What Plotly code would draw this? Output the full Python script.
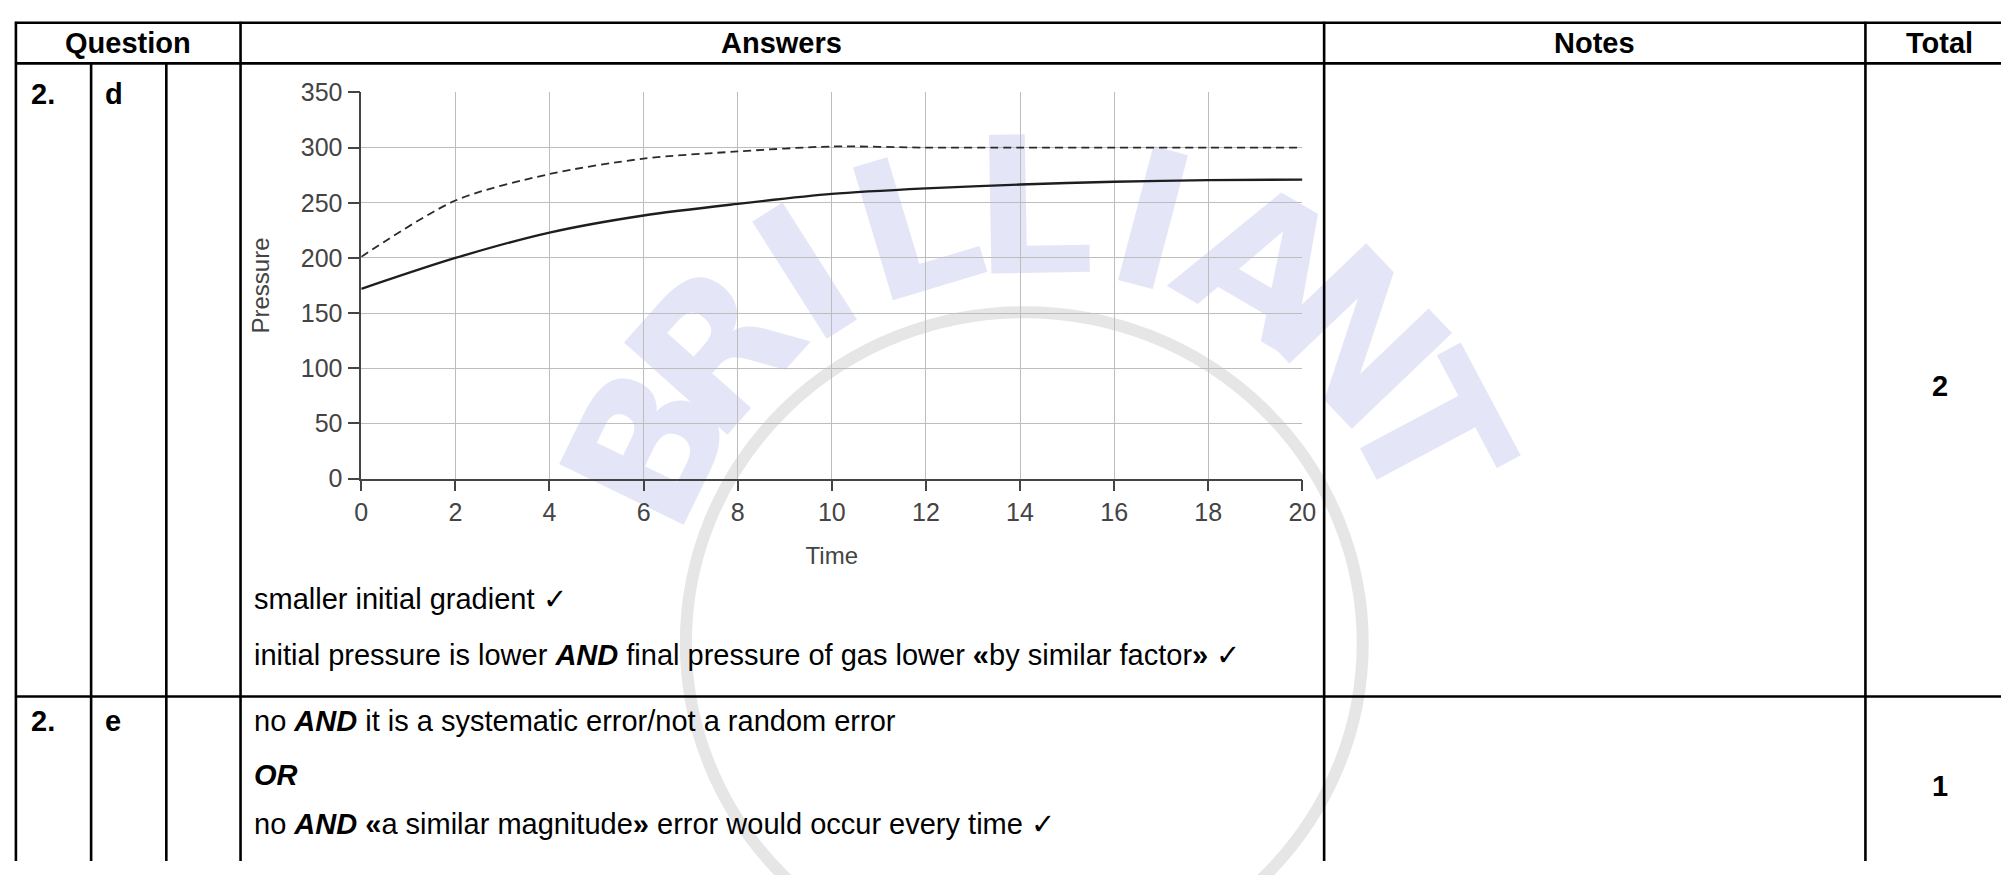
import math
import plotly.graph_objects as go

# ---------------- data ----------------
time_vals = [0, 2, 4, 6, 8, 10, 12, 14, 16, 18, 20]
pressure_original = [201, 252, 276, 290, 296.5, 301, 300, 300, 300, 300, 300]   # dashed
pressure_new = [172, 200, 223, 238.5, 249, 258, 263, 266.5, 269, 270.5, 271]    # solid
y_ticks = [0, 50, 100, 150, 200, 250, 300, 350]
x_ticks = [0, 2, 4, 6, 8, 10, 12, 14, 16, 18, 20]

headers = ["Question", "Answers", "Notes", "Total"]
row_d_answers = [
    "smaller initial gradient ✓",
    "initial pressure is lower <b><i>AND</i></b> final pressure of gas lower <b>«</b>by similar factor<b>»</b> ✓",
]
row_e_answers = [
    "no <b><i>AND</i></b> it is a systematic error/not a random error",
    "<b><i>OR</i></b>",
    "no <b><i>AND</i></b> <b>«</b>a similar magnitude<b>»</b> error would occur every time ✓",
]
totals = ["2", "1"]
watermark = "BRILLIANT"

# ---------------- geometry helpers ----------------
W, H = 2015, 875
def px(x):
    return x / W
def py(y):
    return 1 - y / H

FONT = "Liberation Sans, Arial, sans-serif"

fig = go.Figure()

fig.add_trace(go.Scatter(x=time_vals, y=pressure_original, mode="lines",
                         line=dict(color="#2a2a2a", width=1.8, dash="8px,5px", shape="spline", smoothing=0.8),
                         showlegend=False, hoverinfo="skip"))
fig.add_trace(go.Scatter(x=time_vals, y=pressure_new, mode="lines",
                         line=dict(color="#1e1e1e", width=2.4, shape="spline", smoothing=0.8),
                         showlegend=False, hoverinfo="skip"))

fig.update_layout(
    width=W, height=H,
    margin=dict(l=0, r=0, t=0, b=0),
    paper_bgcolor="white", plot_bgcolor="rgba(0,0,0,0)",
    font=dict(family=FONT, color="#000"),
    xaxis=dict(domain=[px(358), px(1309)], range=[0, 20], tickvals=x_ticks,
               showgrid=True, gridcolor="#bdbdbd", gridwidth=1,
               showline=True, linecolor="#444", linewidth=1.5,
               ticks="outside", ticklen=11, tickcolor="#444", tickwidth=1.5,
               tickfont=dict(size=25, color="#444", family=FONT),
               zeroline=False, mirror=False,
               title=dict(text="Time", font=dict(size=24, color="#444", family=FONT), standoff=22)),
    yaxis=dict(domain=[py(480), py(81)], range=[0, 350], tickvals=y_ticks,
               showgrid=True, gridcolor="#bdbdbd", gridwidth=1,
               showline=True, linecolor="#444", linewidth=1.5,
               ticks="outside", ticklen=12, tickcolor="#444", tickwidth=1.5,
               tickfont=dict(size=25, color="#444", family=FONT),
               zeroline=False,
               title=dict(text="Pressure", font=dict(size=24, color="#444", family=FONT), standoff=24)),
)

shapes = []
# watermark ring
cx, cy, r = 1028, 650, 342
shapes.append(dict(type="circle", xref="paper", yref="paper", layer="below",
                   x0=px(cx - r), x1=px(cx + r), y0=py(cy + r), y1=py(cy - r),
                   line=dict(color="#e6e6e6", width=12)))

# watermark letters along an arc (drawn below grid and curves)
wcx, wcy, R = 1045, 640, 455
a0, a1 = -64, 62
n = len(watermark)
for i, ch in enumerate(watermark):
    th = a0 + (a1 - a0) * i / (n - 1)
    t = math.radians(th)
    x = wcx + R * math.sin(t)
    y = wcy - R * math.cos(t)
    shapes.append(dict(type="rect", xref="paper", yref="paper", layer="below",
                       x0=px(x - 1), x1=px(x + 1), y0=py(y + 1), y1=py(y - 1),
                       line=dict(width=0), fillcolor="rgba(0,0,0,0)",
                       label=dict(text="<b>" + ch + "</b>", textangle=th, textposition="middle center",
                                  font=dict(size=190, color="#e4e6f8", family="DejaVu Sans"))))

def hline(y, x0, x1, w=2.6):
    shapes.append(dict(type="line", xref="paper", yref="paper", x0=px(x0), x1=px(x1),
                       y0=py(y), y1=py(y), line=dict(color="black", width=w)))
def vline(x, y0, y1, w=2.6):
    shapes.append(dict(type="line", xref="paper", yref="paper", x0=px(x), x1=px(x),
                       y0=py(y0), y1=py(y1), line=dict(color="black", width=w)))

hline(9, 8, W)
hline(51, 8, W)
hline(705, 8, W)
vline(9, 8, H)
vline(85, 51, H)
vline(161, 51, H)
vline(236, 8, H)
vline(1331, 8, H)
vline(1878, 8, H)
fig.update_layout(shapes=shapes)

ann = []
def txt(x, y, s, size=29, bold=False, xanchor="left", color="#000"):
    ann.append(dict(x=px(x), y=py(y), xref="paper", yref="paper",
                    text=("<b>" + s + "</b>") if bold else s, showarrow=False,
                    xanchor=xanchor, yanchor="middle",
                    font=dict(size=size, color=color, family=FONT)))

# headers
txt(122, 30, headers[0], bold=True, xanchor="center")
txt(783, 30, headers[1], bold=True, xanchor="center")
txt(1604, 30, headers[2], bold=True, xanchor="center")
txt(1953, 30, headers[3], bold=True, xanchor="center")

# row labels
txt(22, 83, "2.", bold=True)
txt(97, 83, "d", bold=True)
txt(22, 730, "2.", bold=True)
txt(97, 730, "e", bold=True)

# answers
for s, y in zip(row_d_answers, [604, 662]):
    txt(248, y, s)
for s, y in zip(row_e_answers, [730, 786, 837]):
    txt(248, y, s)

# totals
txt(1953, 384, totals[0], bold=True, xanchor="center")
txt(1953, 798, totals[1], bold=True, xanchor="center")

fig.update_layout(annotations=ann)

post = (
    "document.documentElement.style.margin='0';"
    "document.body.style.margin='0';document.body.style.padding='0';"
    "document.body.style.overflow='hidden';"
    "var d=document.getElementsByClassName('plotly-graph-div')[0];"
    "if(d){d.style.position='absolute';d.style.left='0px';d.style.top='0px';}"
)
fig.write_html("out.html", post_script=post, config={"displayModeBar": False})
